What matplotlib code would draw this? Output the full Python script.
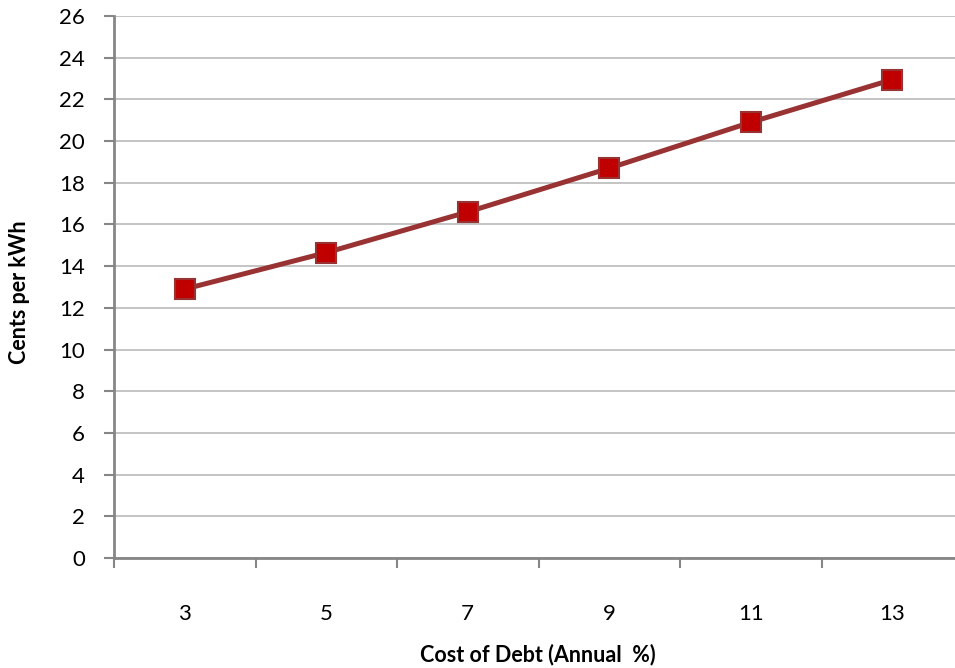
import numpy as np
import matplotlib.pyplot as plt
from matplotlib.ticker import FixedLocator

debt_rate = ['3', '5', '7', '9', '11', '13']
cents_per_kwh = [12.9, 14.65, 16.6, 18.7, 20.9, 22.95]

plt.rcParams['font.family'] = ['Lato', 'DejaVu Sans']

fig = plt.figure(figsize=(9.55, 6.68), dpi=100)
# plot area runs past the right edge of the image, like the original crop
ax = fig.add_axes([114/955, 110/668, (963-114)/955, 542/668])

x = np.arange(len(debt_rate))
ax.plot(x, cents_per_kwh, color='#993333', lw=3.6, marker='s', ms=14,
        mfc='#C00000', mec='#993333', mew=1.5, zorder=3)

ax.set_xlim(-0.5, len(debt_rate) - 0.5)
ax.set_ylim(0, 26)
ax.set_yticks(np.arange(0, 27, 2))
ax.grid(axis='y', color='#BFBFBF', lw=1.3)
ax.set_axisbelow(True)

ax.set_xticks(x)
ax.set_xticklabels(debt_rate)
ax.xaxis.set_minor_locator(FixedLocator(np.arange(-0.5, len(debt_rate), 1)))
ax.tick_params(axis='x', which='major', length=0, pad=33, labelsize=16)
ax.tick_params(axis='x', which='minor', length=7, width=1.5, color='#868686')
ax.tick_params(axis='y', length=7, width=1.5, color='#868686', labelsize=16, pad=14)

for s in ['top', 'right']:
    ax.spines[s].set_visible(False)
for s in ['left', 'bottom']:
    ax.spines[s].set_color('#868686')
    ax.spines[s].set_linewidth(2)

font_lbl = {'family': ['Lato', 'DejaVu Sans'], 'weight': 'bold', 'size': 15.5}
fig.text(538/955, 1 - 655/668, 'Cost of Debt (Annual  %)', fontdict=font_lbl,
         ha='center', va='center')
fig.text(20/955, 1 - 292/668, 'Cents per kWh', fontdict=font_lbl,
         ha='center', va='center', rotation=90)

fig.savefig('out.png', dpi=100)
